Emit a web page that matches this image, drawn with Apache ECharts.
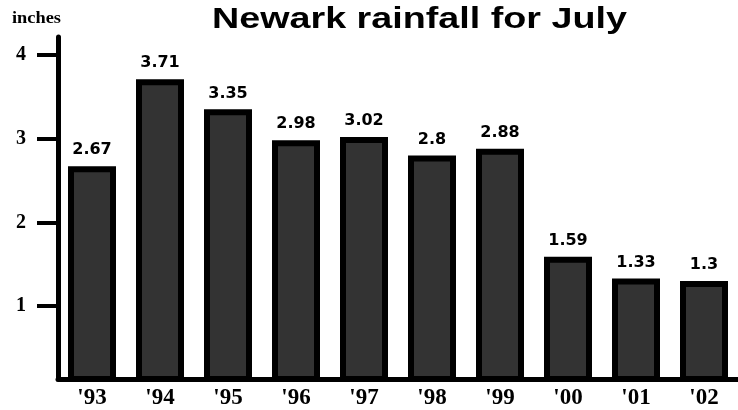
<!DOCTYPE html>
<html><head><meta charset="utf-8">
<script src="https://cdn.jsdelivr.net/npm/echarts@6/dist/echarts.min.js"></script>
<style>html,body{margin:0;padding:0;background:#fff}#c{width:738px;height:410px}</style>
</head><body><div id="c"></div>
<script>
const years = ["'93", "'94", "'95", "'96", "'97", "'98", "'99", "'00", "'01", "'02"];
const rainfall = [2.67, 3.71, 3.35, 2.98, 3.02, 2.8, 2.88, 1.59, 1.33, 1.3];
const yTicks = [1, 2, 3, 4];
const titleText = 'Newark rainfall for July';
const unitText = 'inches';

const chart = echarts.init(document.getElementById('c'), null, {renderer: 'canvas'});
chart.setOption({
  animation: false,
  backgroundColor: '#fff',
  graphic: [
    {type: 'text', x: 212, y: 5, scaleX: 1.3, scaleY: 1,
     style: {text: titleText, font: 'bold 29px "Liberation Sans"', fill: '#000', textVerticalAlign: 'top'}},
    {type: 'text', x: 12, y: 10, scaleX: 1.08,
     style: {text: unitText, font: 'bold 17px "Liberation Serif"', fill: '#000', textVerticalAlign: 'top'}}
  ],
  grid: {left: 58, top: 37, width: 693, bottom: 30, containLabel: false},
  xAxis: {
    type: 'category', data: years,
    axisLine: {show: true, lineStyle: {color: '#000', width: 5}},
    axisTick: {show: false},
    axisLabel: {margin: 8, fontFamily: 'Liberation Serif', fontWeight: 'bold', fontSize: 23, color: '#000'}
  },
  yAxis: {
    type: 'value', min: 0.13, max: 4.214,
    splitLine: {show: false},
    axisLine: {show: true, lineStyle: {color: '#000', width: 5}},
    axisTick: {show: true, customValues: yTicks, length: 21, lineStyle: {color: '#000', width: 4}},
    axisLabel: {customValues: yTicks, margin: 32, fontFamily: 'Liberation Serif', fontWeight: 'bold', fontSize: 20, color: '#000'}
  },
  series: [{
    type: 'bar', data: rainfall, barWidth: 48,
    itemStyle: {color: '#333333', borderColor: '#000', borderWidth: 6},
    label: {show: true, position: 'top', distance: 8, fontFamily: 'DejaVu Sans', fontWeight: 'bold', fontSize: 16, color: '#000'}
  }]
});
</script></body></html>
